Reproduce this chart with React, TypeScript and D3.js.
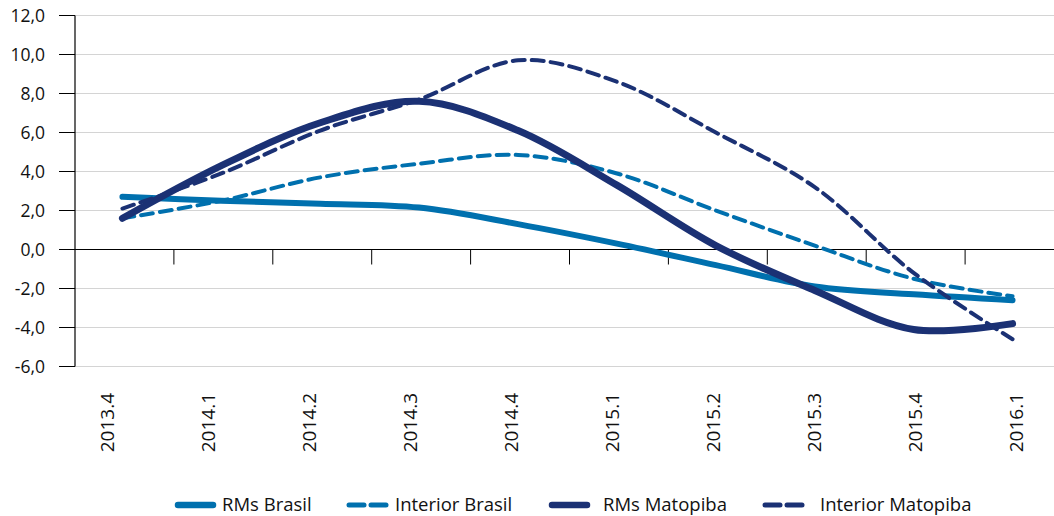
import React from "react";
import * as d3 from "d3";

const categories = ["2013.4", "2014.1", "2014.2", "2014.3", "2014.4", "2015.1", "2015.2", "2015.3", "2015.4", "2016.1"];
const rmsBrasil = [2.7, 2.5, 2.35, 2.15, 1.3, 0.3, -0.8, -1.9, -2.3, -2.6];
const interiorBrasil = [1.6, 2.5, 3.7, 4.4, 4.85, 3.9, 2.0, 0.2, -1.5, -2.4];
const rmsMatopiba = [1.6, 4.3, 6.5, 7.6, 6.1, 3.3, 0.2, -2.1, -4.1, -3.8];
const interiorMatopiba = [2.1, 3.9, 6.1, 7.7, 9.7, 8.6, 6.0, 3.2, -1.2, -4.6];
const yTicks = [-6, -4, -2, 0, 2, 4, 6, 8, 10, 12];

const BLUE = "#0070ae";
const NAVY = "#1b3174";

const series = [
  { name: "RMs Brasil", values: rmsBrasil, color: BLUE, width: 6, dash: null },
  { name: "Interior Brasil", values: interiorBrasil, color: BLUE, width: 4, dash: "12 7" },
  { name: "RMs Matopiba", values: rmsMatopiba, color: NAVY, width: 7, dash: null },
  { name: "Interior Matopiba", values: interiorMatopiba, color: NAVY, width: 4, dash: "12 7" },
];

const legendX = [175, 347, 549, 763];
const legendTextOffset = [47, 48, 54, 57];

export default function App() {
  const W = 1054, H = 516;
  const left = 75, right = 1054;
  const LY = 505;
  const x = d3.scaleBand<string>().domain(categories).range([75, 1064]);
  const xLabel = d3.scalePoint<string>().domain(categories).range([107, 1016]);
  const y = d3.scaleLinear().domain([-6, 12]).range([366.5, 15.5]);
  const line = (vals: number[]) =>
    d3.line<number>()
      .x((_, i) => (x(categories[i]) as number) + x.bandwidth() / 2 - 2)
      .y((v) => y(v))
      .curve(d3.curveCatmullRom.alpha(0.5))(vals) as string;
  const font = "'Open Sans', 'Noto Sans', sans-serif";

  return (
    <svg width={W} height={H} style={{ position: "absolute", left: 0, top: 0, background: "#fff" }} fontFamily={font}>
      {yTicks.map((t) => (
        <g key={t}>
          {t !== 0 && <line x1={left} x2={right} y1={y(t)} y2={y(t)} stroke="#d4d4d4" strokeWidth={1.2} />}
          <line x1={59} x2={left} y1={y(t)} y2={y(t)} stroke="#000" strokeWidth={1} />
          <text x={45} y={y(t)} dy="0.36em" textAnchor="end" fontSize={17.5} fill="#111">
            {d3.format(".1f")(t).replace(".", ",").replace("−", "-")}
          </text>
        </g>
      ))}
      <line x1={left} x2={left} y1={y(12)} y2={y(-6)} stroke="#000" strokeWidth={1.2} />
      <line x1={left} x2={right} y1={y(0)} y2={y(0)} stroke="#000" strokeWidth={1.2} />
      {categories.slice(1).map((c) => (
        <line key={c} x1={x(c)} x2={x(c)} y1={y(0)} y2={y(0) + 15} stroke="#000" strokeWidth={1} />
      ))}
      {categories.map((c) => (
        <text key={c} transform={`translate(${xLabel(c)},393) rotate(-90)`} textAnchor="end" dy="0.36em" fontSize={19} fill="#111">
          {c}
        </text>
      ))}
      {series.map((s) => (
        <path key={s.name} d={line(s.values)} fill="none" stroke={s.color} strokeWidth={s.width}
          strokeDasharray={s.dash ?? undefined} strokeLinecap="round" strokeLinejoin="round" />
      ))}
      {series.map((s, i) => (
        <g key={s.name}>
          {s.dash ? (
            <>
              <line x1={legendX[i] + 2} x2={legendX[i] + 17} y1={LY} y2={LY} stroke={s.color} strokeWidth={5} strokeLinecap="round" />
              <line x1={legendX[i] + 24} x2={legendX[i] + 39} y1={LY} y2={LY} stroke={s.color} strokeWidth={5} strokeLinecap="round" />
            </>
          ) : (
            <line x1={legendX[i] + 3} x2={legendX[i] + 38} y1={LY} y2={LY} stroke={s.color} strokeWidth={6.5} strokeLinecap="round" />
          )}
          <text x={legendX[i] + legendTextOffset[i]} y={LY} dy="0.33em" fontSize={18.5} fill="#111">{s.name}</text>
        </g>
      ))}
    </svg>
  );
}
